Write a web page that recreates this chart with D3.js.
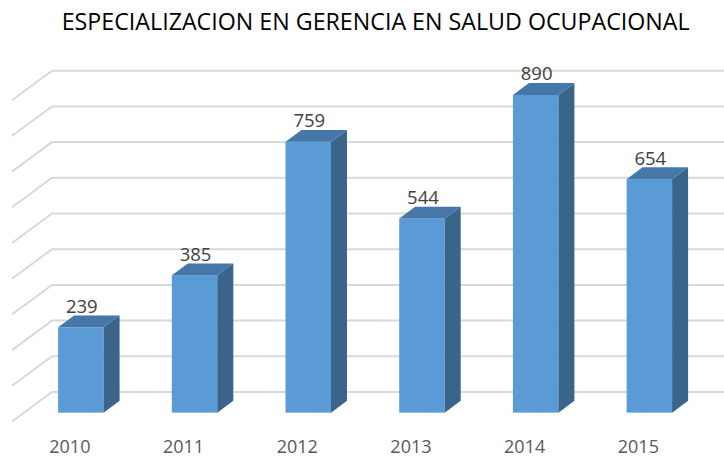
<!DOCTYPE html>
<html>
<head>
<meta charset="utf-8">
<script src="https://cdn.jsdelivr.net/npm/d3@7"></script>
<style>
  body { margin: 0; background: #fff; }
  svg { display: block; }
</style>
</head>
<body>
<div id="chart"></div>
<script>
// data
const years = ["2010", "2011", "2012", "2013", "2014", "2015"];
const values = [239, 385, 759, 544, 890, 654];
const gridValues = [0, 100, 200, 300, 400, 500, 600, 700, 800, 900];
const title = "ESPECIALIZACION EN GERENCIA EN SALUD OCUPACIONAL";

const width = 724, height = 457;
// 3d floor depth (front edge -> back wall)
const depthX = 40, depthY = -29.5;
const barFront = 0.3, barBack = 0.7;

const svg = d3.select("#chart")
  .append("svg")
    .attr("width", width)
    .attr("height", height);

// x at the front edge of the floor
const x = d3.scaleBand()
  .domain(years)
  .range([12, 12 + 6 * 113.7])
  .paddingInner(0.6)
  .paddingOuter(0.3);

// y at the front edge of the floor
const y = d3.scaleLinear()
  .domain([0, 900])
  .range([421.5, 100.2]);

// gridlines: side wall diagonal + back wall
const grid = svg.append("g")
  .attr("stroke", "#d9d9d9")
  .attr("stroke-width", 2)
  .attr("fill", "none");

gridValues.forEach(v => {
  grid.append("path")
    .attr("d", `M12,${y(v)} L${12 + depthX},${y(v) + depthY} L${width},${y(v) + depthY}`);
});

// bars
const w = x.bandwidth();
const dx = depthX * (barBack - barFront), dy = depthY * (barBack - barFront);
const offX = depthX * barFront, offY = depthY * barFront;

const bars = svg.append("g")
  .selectAll("g")
  .data(years.map((c, i) => ({cat: c, value: values[i]})))
  .join("g");

bars.each(function(d) {
  const g = d3.select(this);
  const fx = x(d.cat) + offX;
  const top = y(d.value) + offY;
  const bottom = y(0) + offY;

  g.append("rect")
    .attr("x", fx)
    .attr("y", top)
    .attr("width", w)
    .attr("height", bottom - top)
    .attr("fill", "#5b9bd5");

  g.append("path")
    .attr("d", `M${fx + w},${top} L${fx + w + dx},${top + dy} L${fx + w + dx},${bottom + dy} L${fx + w},${bottom} Z`)
    .attr("fill", "#3a6489");

  g.append("path")
    .attr("d", `M${fx},${top} L${fx + dx},${top + dy} L${fx + w + dx},${top + dy} L${fx + w},${top} Z`)
    .attr("fill", "#4577a9");

  g.append("text")
    .attr("x", fx + w / 2 + 1)
    .attr("y", top - 14.5)
    .attr("text-anchor", "middle")
    .attr("font-family", "Open Sans, sans-serif")
    .attr("font-size", 18.5)
    .attr("fill", "#404040")
    .text(d.value);
});

// category axis
const xAxis = svg.append("g")
  .attr("transform", `translate(1,${y(0)})`)
  .call(d3.axisBottom(x).tickSize(0).tickPadding(0));
xAxis.select(".domain").remove();
xAxis.selectAll("text")
  .attr("y", 31)
  .attr("dy", null)
  .attr("font-family", "Open Sans, sans-serif")
  .attr("font-size", 18)
  .attr("fill", "#595959");

// title
svg.append("text")
  .attr("x", 61.7)
  .attr("y", 29.5)
  .attr("textLength", 628)
  .attr("lengthAdjust", "spacingAndGlyphs")
  .attr("font-family", "Open Sans, sans-serif")
  .attr("font-size", 23.5)
  .attr("fill", "#000")
  .text(title);
</script>
</body>
</html>
